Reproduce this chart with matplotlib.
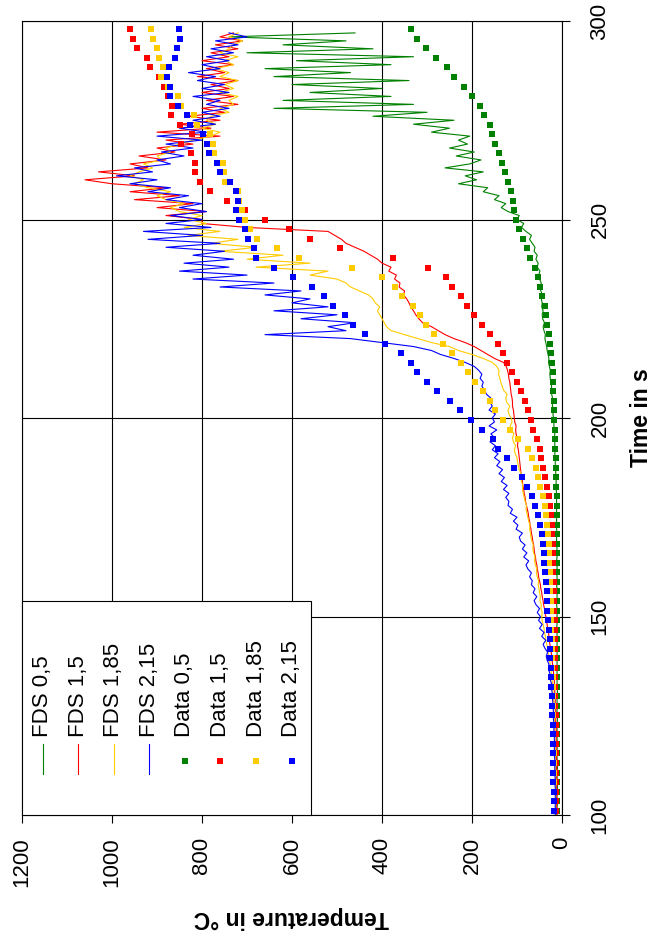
import numpy as np
import matplotlib
matplotlib.use("Agg")
import matplotlib.pyplot as plt
from matplotlib.patches import Rectangle

plt.rcParams['font.family'] = ['Liberation Sans', 'DejaVu Sans']

# FDS output, one value per second from 100 s to 297 s
t_fds = np.arange(100, 298)

fds_05 = [
    11, 11, 11, 10, 11, 11, 11, 10, 11, 11,
    11, 11, 10, 11, 11, 11, 11, 11, 10, 11,
    11, 11, 11, 11, 10, 11, 11, 11, 11, 11,
    11, 10, 11, 11, 11, 11, 11, 11, 11, 11,
    11, 11, 11, 11, 11, 11, 11, 12, 11, 11,
    11, 11, 11, 12, 11, 11, 11, 11, 12, 11,
    11, 12, 11, 11, 12, 11, 12, 11, 12, 12,
    12, 11, 12, 12, 12, 12, 12, 12, 12, 12,
    12, 12, 13, 13, 13, 13, 14, 14, 15, 15,
    15, 16, 15, 16, 16, 17, 16, 17, 18, 18,
    19, 20, 19, 21, 22, 21, 23, 24, 23, 25,
    26, 27, 26, 28, 30, 29, 31, 33, 34, 36,
    38, 37, 40, 42, 39, 43, 44, 42, 45, 44,
    46, 44, 47, 49, 46, 50, 52, 49, 55, 53,
    58, 55, 62, 60, 66, 72, 68, 80, 90, 85,
    100, 95, 120, 135, 125, 150, 140, 175, 165, 230,
    190, 215, 175, 260, 205, 180, 235, 195, 250, 210,
    230, 205, 290, 250, 330, 240, 420, 300, 640, 330,
    620, 380, 560, 400, 600, 340, 640, 470, 660, 380,
    590, 330, 700, 420, 620, 480, 740, 460,
]

fds_15 = [
    12, 12, 12, 12, 12, 12, 12, 12, 12, 12,
    12, 12, 12, 12, 12, 13, 13, 13, 13, 13,
    13, 13, 13, 14, 14, 14, 14, 14, 15, 15,
    15, 16, 16, 17, 17, 18, 19, 20, 21, 22,
    23, 24, 25, 27, 28, 29, 30, 32, 33, 35,
    36, 38, 39, 41, 42, 44, 45, 47, 48, 50,
    52, 53, 55, 56, 58, 59, 61, 62, 63, 65,
    66, 68, 69, 71, 72, 74, 75, 77, 79, 81,
    82, 84, 85, 87, 88, 89, 91, 92, 93, 94,
    95, 96, 97, 99, 98, 100, 102, 103, 102, 105,
    106, 107, 108, 110, 110, 111, 113, 114, 115, 116,
    118, 119, 121, 124, 130, 150, 165, 180, 195, 215,
    240, 260, 275, 290, 310, 318, 325, 330, 336, 340,
    345, 352, 350, 362, 360, 372, 368, 385, 380, 400,
    410, 425, 440, 460, 480, 490, 505, 520, 700, 800,
    800, 880, 790, 900, 820, 950, 850, 960, 880, 1000,
    1060, 950, 1030, 920, 960, 880, 940, 860, 900, 820,
    880, 760, 900, 780, 850, 760, 830, 750, 800, 720,
    790, 730, 800, 740, 780, 720, 810, 750, 790, 730,
    800, 740, 780, 720, 770, 710, 760, 730,
]

fds_185 = [
    14, 14, 14, 14, 14, 14, 14, 14, 14, 14,
    14, 14, 15, 15, 15, 15, 15, 15, 16, 16,
    16, 16, 16, 17, 17, 17, 18, 18, 18, 19,
    19, 20, 20, 21, 22, 23, 24, 25, 26, 28,
    29, 31, 32, 34, 36, 37, 39, 40, 42, 44,
    45, 44, 47, 46, 49, 48, 50, 51, 53, 52,
    55, 57, 56, 59, 61, 60, 63, 65, 64, 67,
    69, 70, 72, 71, 74, 76, 78, 80, 79, 82,
    84, 86, 88, 87, 90, 92, 91, 95, 97, 99,
    100, 104, 106, 103, 108, 110, 107, 112, 115, 111,
    113, 118, 120, 116, 123, 125, 122, 130, 133, 136,
    138, 141, 140, 145, 155, 175, 200, 230, 250, 290,
    320, 350, 380, 390, 395, 400, 405, 410, 405, 415,
    420, 430, 450, 470, 480, 500, 560, 520, 680, 560,
    700, 620, 760, 680, 780, 720, 830, 760, 840, 790,
    830, 800, 850, 870, 840, 880, 900, 870, 920, 950,
    930, 960, 940, 910, 930, 890, 900, 870, 880, 850,
    820, 780, 760, 800, 770, 790, 780, 740, 760, 730,
    740, 720, 760, 730, 750, 720, 760, 740, 770, 730,
    750, 720, 760, 740, 730, 710, 740, 720,
]

fds_215 = [
    15, 15, 15, 15, 15, 15, 15, 15, 16, 15,
    16, 16, 16, 16, 16, 17, 17, 17, 17, 17,
    17, 18, 18, 18, 19, 19, 19, 20, 20, 21,
    21, 22, 24, 23, 26, 25, 28, 30, 29, 33,
    35, 32, 38, 42, 36, 45, 40, 50, 44, 52,
    48, 55, 50, 58, 62, 56, 64, 60, 68, 66,
    72, 68, 76, 80, 74, 85, 78, 88, 82, 92,
    95, 88, 102, 98, 108, 100, 115, 110, 120, 118,
    125, 118, 130, 122, 135, 128, 140, 132, 145, 138,
    150, 142, 155, 148, 160, 150, 158, 145, 162, 150,
    155, 148, 162, 155, 160, 158, 168, 172, 178, 175,
    182, 178, 185, 195, 215, 240, 270, 290, 330, 400,
    470, 660, 480, 520, 460, 580, 500, 640, 520, 600,
    560, 660, 580, 760, 640, 820, 700, 850, 740, 840,
    730, 820, 750, 880, 760, 920, 800, 930, 780, 880,
    800, 870, 790, 850, 800, 880, 830, 920, 870, 960,
    900, 990, 910, 950, 870, 900, 840, 890, 820, 880,
    800, 900, 790, 850, 770, 820, 760, 800, 740, 790,
    760, 820, 740, 800, 750, 810, 770, 830, 760, 800,
    740, 790, 730, 780, 720, 770, 700, 740,
]

# measured data, one reading every 2.4 s starting at 101.1 s
t_data = np.round(101.1 + 2.4 * np.arange(83), 1)

data_05 = [
    11, 11, 11, 11, 11, 11, 11, 11, 11, 11,
    11, 11, 11, 11, 11, 11, 11, 11, 11, 11,
    11, 11, 11, 11, 11, 11, 11, 11, 11, 12, 12,
    12, 12, 12, 13, 13, 14, 14, 15, 15, 16, 17, 18,
    18, 19, 21, 21, 23, 24, 27, 29, 33, 35, 38,
    44, 48, 53, 59, 71, 78, 86, 95, 102, 107,
    110, 114, 119, 127, 133, 141, 149, 155, 160, 173,
    182, 199, 217, 239, 256, 281, 303, 322, 336,
]

data_15 = [
    14, 14, 14, 14, 14, 14, 14, 14, 14, 14, 14,
    15, 15, 15, 15, 15, 15, 16, 16, 16, 16, 17, 17,
    17, 18, 19, 19, 20, 21, 22, 23, 24, 27,
    30, 34, 37, 42, 47, 50, 56, 64, 68, 76,
    82, 92, 99, 112, 122, 132, 143, 160, 178, 196, 212,
    225, 244, 257, 298, 375, 494, 560, 607, 661, 704,
    744, 783, 804, 815, 815, 824, 847, 822, 849, 869,
    867, 875, 884, 896, 916, 923, 945, 953, 960,
]

data_185 = [
    17, 17, 17, 17, 18, 18, 18, 19, 19, 19, 20, 20,
    20, 21, 21, 22, 22, 23, 23, 24, 24, 25, 25, 26,
    27, 27, 28, 29, 30, 32, 34, 36, 38, 43,
    49, 53, 58, 67, 75, 97, 116, 132, 149, 160,
    176, 193, 208, 224, 244, 264, 284, 302, 316, 332,
    355, 371, 401, 467, 585, 634, 678, 693, 704, 712,
    718, 721, 749, 751, 754, 773, 775, 782, 812, 817,
    847, 854, 875, 891, 886, 896, 899, 910, 913,
]

data_215 = [
    18, 18, 18, 19, 19, 19, 20, 20, 21, 21, 22, 22,
    23, 24, 24, 25, 26, 27, 27, 29, 31, 33, 34,
    34, 36, 38, 39, 41, 43, 45, 49, 53, 59,
    67, 78, 90, 106, 123, 143, 154, 178, 203, 227,
    249, 277, 299, 323, 336, 358, 393, 438, 465, 482, 509,
    530, 556, 597, 641, 680, 684, 697, 704, 717, 724,
    721, 724, 738, 760, 766, 784, 788, 797, 827, 834,
    854, 871, 871, 878, 873, 861, 856, 849, 851,
]

labels = ['FDS 0,5', 'FDS 1,5', 'FDS 1,85', 'FDS 2,15',
          'Data 0,5', 'Data 1,5', 'Data 1,85', 'Data 2,15']
colors = ['#008000', '#ff0000', '#ffcc00', '#0000ff']

W, H = 653, 944
fig = plt.figure(figsize=(W / 100, H / 100), dpi=100)
ax = fig.add_axes([22 / W, (H - 815) / H, 540 / W, 794 / H])

# the chart is drawn turned a quarter turn: temperature runs right to left, time upwards
fds = [fds_05, fds_15, fds_185, fds_215]
data = [data_05, data_15, data_185, data_215]
for vals, c in zip(fds, colors):
    ax.plot(vals, t_fds, color=c, lw=0.8, zorder=2)
for vals, c in zip(data, colors):
    ax.plot(vals, t_data, 's', color=c, ms=4.3, mew=0, zorder=3)

ax.set_xlim(1200, 0)
ax.set_ylim(100, 300)
ax.set_xticks(range(0, 1201, 200))
ax.set_yticks(range(100, 301, 50))
ax.grid(True, color='black', linewidth=0.8)
for s in ax.spines.values():
    s.set_linewidth(0.8)

ax.yaxis.tick_right()
ax.tick_params(axis='both', direction='out', length=5.8, width=0.8,
               labelsize=16, labelrotation=90)
ax.tick_params(axis='x', pad=10)
ax.tick_params(axis='y', pad=14)
plt.setp(ax.get_yticklabels(), va='center')

fig.text(641 / W, 1 - 418 / H, 'Time in s', rotation=90, ha='center',
         va='center', fontsize=16.5, fontweight='bold')
fig.text(291 / W, 1 - 918 / H, 'Temperature in °C', rotation=180,
         ha='center', va='center', fontsize=16.5, fontweight='bold')

# hand built legend, turned like the rest of the chart
ax.add_patch(Rectangle((0, 0), 0.535, 0.2695, transform=ax.transAxes,
                       facecolor='white', edgecolor='black', lw=0.8,
                       zorder=5, clip_on=False))
xs = [0.038 + 0.0659 * i for i in range(8)]
for i, (x, lab) in enumerate(zip(xs, labels)):
    c = colors[i % 4]
    if i < 4:
        ax.plot([x, x], [0.0516, 0.0894], color=c, lw=0.8,
                transform=ax.transAxes, zorder=6, clip_on=False)
    else:
        ax.plot([x], [0.068], 's', color=c, ms=4.3, mew=0,
                transform=ax.transAxes, zorder=6, clip_on=False)
    ax.text(x, 0.0982, lab, transform=ax.transAxes, rotation=90,
            ha='center', va='bottom', fontsize=16, zorder=6)

fig.savefig('out.png', dpi=100)
